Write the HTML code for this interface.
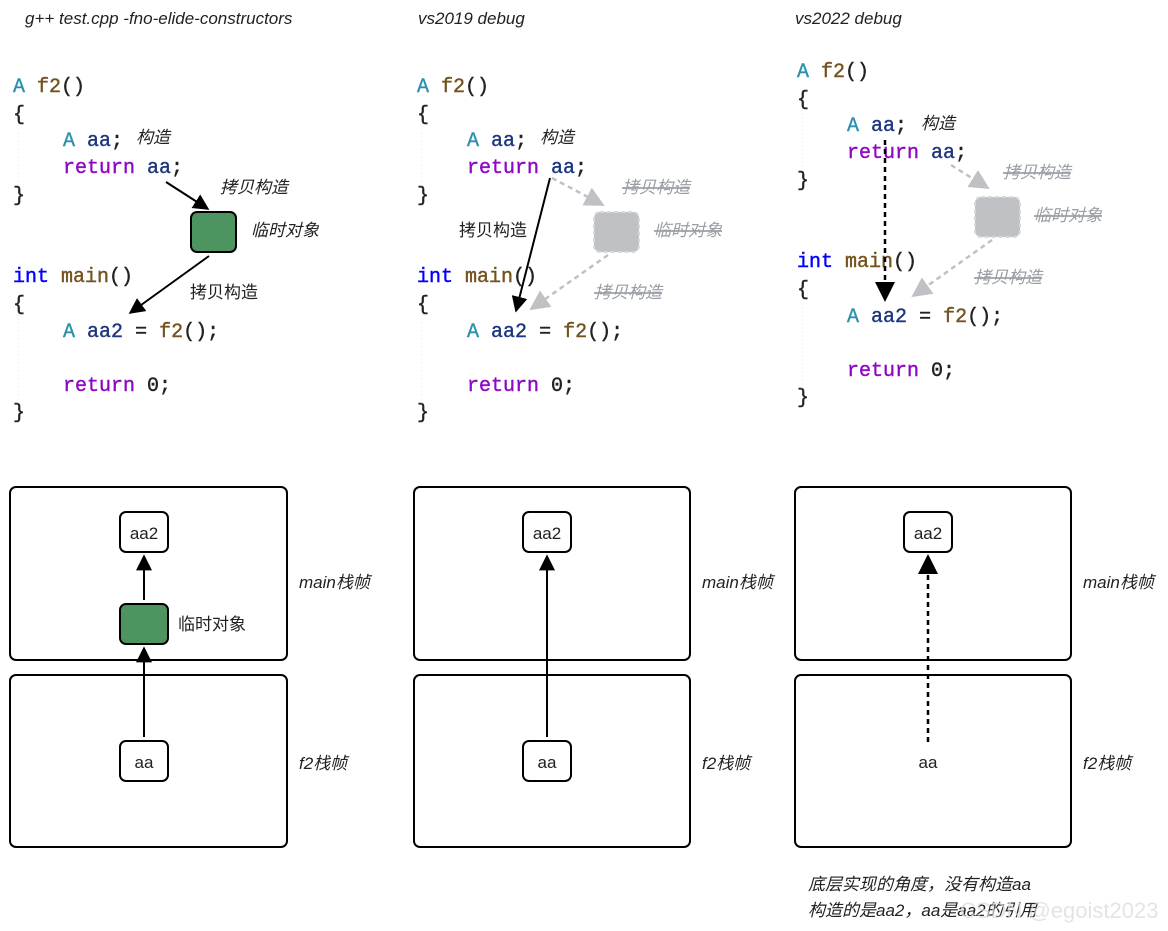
<!DOCTYPE html>
<html><head><meta charset="utf-8"><style>
html,body{margin:0;padding:0;background:#fff;}
svg{display:block}
.c{font-family:"Liberation Mono","DejaVu Sans Mono",monospace;font-size:20px;stroke-width:0.4px;}
.t{fill:#2b91af;stroke:#2b91af}.v{fill:#1f377f;stroke:#1f377f}.f{fill:#74531f;stroke:#74531f}.k{fill:#8f08c4;stroke:#8f08c4}.b{fill:#0000ff;stroke:#0000ff}.p{fill:#222;stroke:#222}
.cn{font-family:"Liberation Sans","Noto Sans CJK SC",sans-serif;font-size:17px;fill:#222}
.i{font-style:italic}
.g{fill:#9a9ea6;text-decoration:line-through}
</style></head><body>
<svg width="1168" height="931" viewBox="0 0 1168 931" xmlns="http://www.w3.org/2000/svg">
<defs>
<marker id="ab" viewBox="0 0 10 10" refX="9" refY="5" markerWidth="8" markerHeight="8" orient="auto"><path d="M0,0L10,5L0,10z" fill="#000"/></marker>
<marker id="ag" viewBox="0 0 10 10" refX="9" refY="5" markerWidth="8" markerHeight="8" orient="auto"><path d="M0,0L10,5L0,10z" fill="#bfc1c5"/></marker>
</defs>
<g class="cn i" font-size="17">
<text x="25" y="24">g++ test.cpp -fno-elide-constructors</text>
<text x="418" y="24">vs2019 debug</text>
<text x="795" y="24">vs2022 debug</text>
</g>

<g id="code1" class="c">
<text x="13" y="92"><tspan class="t">A</tspan> <tspan class="f">f2</tspan><tspan class="p">()</tspan></text>
<text x="13" y="120" class="p">{</text>
<text x="63" y="146"><tspan class="t">A</tspan> <tspan class="v">aa</tspan><tspan class="p">;</tspan></text>
<text x="63" y="173"><tspan class="k">return</tspan> <tspan class="v">aa</tspan><tspan class="p">;</tspan></text>
<text x="13" y="201" class="p">}</text>
<text x="13" y="282"><tspan class="b">int</tspan> <tspan class="f">main</tspan><tspan class="p">()</tspan></text>
<text x="13" y="310" class="p">{</text>
<text x="63" y="337"><tspan class="t">A</tspan> <tspan class="v">aa2</tspan> <tspan class="p">=</tspan> <tspan class="f">f2</tspan><tspan class="p">();</tspan></text>
<text x="63" y="391"><tspan class="k">return</tspan> <tspan class="p">0;</tspan></text>
<text x="13" y="418" class="p">}</text>
<line x1="18" y1="124" x2="18" y2="190" stroke="#ddd" stroke-dasharray="2,2"/>
<line x1="18" y1="314" x2="18" y2="408" stroke="#ddd" stroke-dasharray="2,2"/>
</g>
<use href="#code1" x="404" y="0"/>
<use href="#code1" x="784" y="-15"/>

<text x="136" y="143" class="cn i">构造</text>
<text x="220" y="193" class="cn i">拷贝构造</text>
<text x="251" y="236" class="cn i">临时对象</text>
<text x="190" y="298" class="cn">拷贝构造</text>
<line x1="166" y1="182" x2="208" y2="209" stroke="#000" stroke-width="2" marker-end="url(#ab)"/>
<rect x="191" y="212" width="45" height="40" rx="6" fill="#4e9460" stroke="#000" stroke-width="2"/>
<line x1="209" y1="256" x2="130" y2="313" stroke="#000" stroke-width="2" marker-end="url(#ab)"/>

<text x="540" y="143" class="cn i">构造</text>
<text x="622" y="193" class="cn i g">拷贝构造</text>
<text x="654" y="236" class="cn i g">临时对象</text>
<text x="594" y="298" class="cn i g">拷贝构造</text>
<text x="459" y="236" class="cn">拷贝构造</text>
<line x1="552" y1="178" x2="603" y2="205" stroke="#bfc1c5" stroke-width="2.5" stroke-dasharray="5,4" marker-end="url(#ag)"/>
<rect x="594" y="212" width="45" height="40" rx="6" fill="#bfc1c5" stroke="#d6d8db" stroke-width="2" stroke-dasharray="4,3"/>
<line x1="608" y1="255" x2="531" y2="309" stroke="#bfc1c5" stroke-width="2.5" stroke-dasharray="5,4" marker-end="url(#ag)"/>
<line x1="550" y1="178" x2="516" y2="311" stroke="#000" stroke-width="2" marker-end="url(#ab)"/>

<text x="921" y="129" class="cn i">构造</text>
<text x="1003" y="178" class="cn i g">拷贝构造</text>
<text x="1034" y="221" class="cn i g">临时对象</text>
<text x="974" y="283" class="cn i g">拷贝构造</text>
<line x1="951" y1="165" x2="988" y2="188" stroke="#bfc1c5" stroke-width="2.5" stroke-dasharray="5,4" marker-end="url(#ag)"/>
<rect x="975" y="197" width="45" height="40" rx="6" fill="#bfc1c5" stroke="#d6d8db" stroke-width="2" stroke-dasharray="4,3"/>
<line x1="992" y1="240" x2="913" y2="296" stroke="#bfc1c5" stroke-width="2.5" stroke-dasharray="5,4" marker-end="url(#ag)"/>
<line x1="885" y1="140" x2="885" y2="300" stroke="#000" stroke-width="2.5" stroke-dasharray="5,4" marker-end="url(#ab)"/>

<g fill="#fff" stroke="#000" stroke-width="2">
<rect x="10" y="487" width="277" height="173" rx="6"/>
<rect x="10" y="675" width="277" height="172" rx="6"/>
<rect x="414" y="487" width="276" height="173" rx="6"/>
<rect x="414" y="675" width="276" height="172" rx="6"/>
<rect x="795" y="487" width="276" height="173" rx="6"/>
<rect x="795" y="675" width="276" height="172" rx="6"/>
</g>
<g class="cn i" font-size="18">
<text x="299" y="588">main栈帧</text><text x="299" y="769">f2栈帧</text>
<text x="702" y="588">main栈帧</text><text x="702" y="769">f2栈帧</text>
<text x="1083" y="588">main栈帧</text><text x="1083" y="769">f2栈帧</text>
</g>
<g stroke="#000" stroke-width="2">
<rect x="120" y="512" width="48" height="40" rx="6" fill="#fff"/>
<rect x="120" y="604" width="48" height="40" rx="6" fill="#4e9460"/>
<rect x="120" y="741" width="48" height="40" rx="6" fill="#fff"/>
<line x1="144" y1="737" x2="144" y2="648" marker-end="url(#ab)"/>
<line x1="144" y1="600" x2="144" y2="556" marker-end="url(#ab)"/>
<rect x="523" y="512" width="48" height="40" rx="6" fill="#fff"/>
<rect x="523" y="741" width="48" height="40" rx="6" fill="#fff"/>
<line x1="547" y1="737" x2="547" y2="556" marker-end="url(#ab)"/>
<rect x="904" y="512" width="48" height="40" rx="6" fill="#fff"/>
<line x1="928" y1="742" x2="928" y2="556" stroke-width="2.5" stroke-dasharray="5,4" marker-end="url(#ab)"/>
</g>
<g class="cn" text-anchor="middle">
<text x="144" y="539">aa2</text><text x="144" y="768">aa</text>
<text x="547" y="539">aa2</text><text x="547" y="768">aa</text>
<text x="928" y="539">aa2</text><text x="928" y="768">aa</text>
</g>
<text x="178" y="630" class="cn">临时对象</text>
<g class="cn i">
<text x="808" y="890">底层实现的角度，没有构造aa</text>
<text x="808" y="916">构造的是aa2，aa是aa2的引用</text>
</g>
<text x="960" y="918" font-family="Liberation Sans,sans-serif" font-size="22" fill="#d8d8d8" fill-opacity="0.7">CSDN @egoist2023</text>
</svg>
</body></html>
